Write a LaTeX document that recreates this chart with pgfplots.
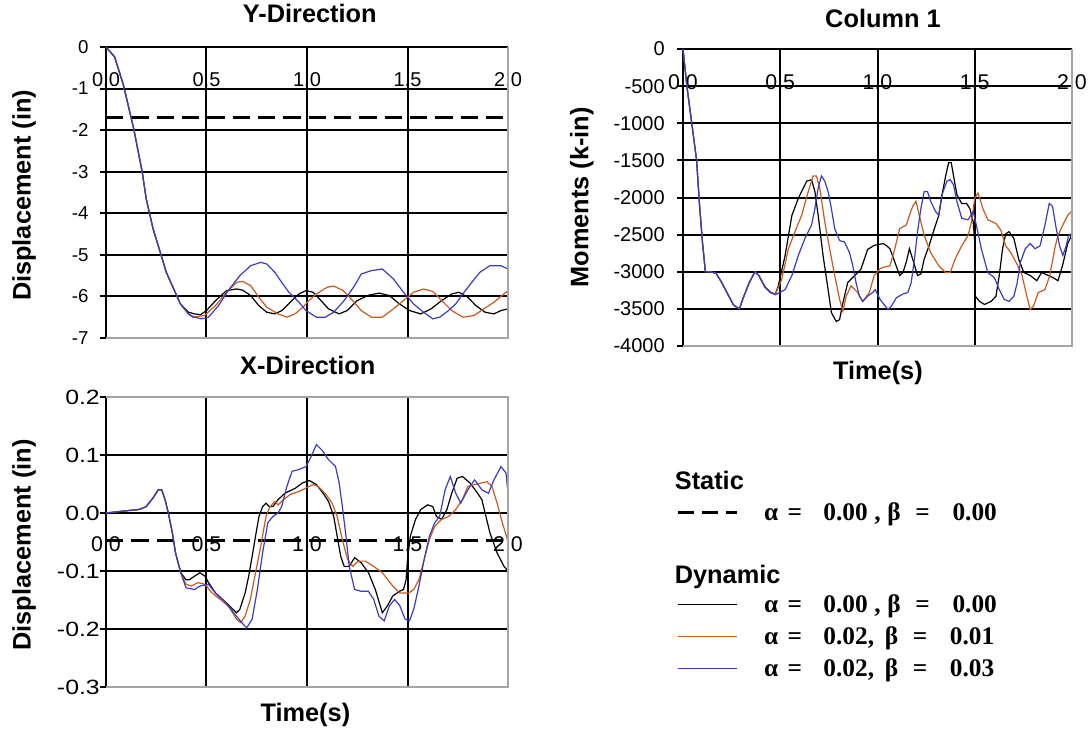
\documentclass[border=0pt]{standalone}
\usepackage{fontspec}
\setmainfont{Liberation Sans}
\newfontfamily\serifb{Liberation Serif}
\usepackage{graphicx}
\usepackage{pgfplots}
\pgfplotsset{compat=1.18}
\definecolor{sorange}{RGB}{200,90,30}
\definecolor{sblue}{RGB}{60,60,190}
\definecolor{bordergray}{RGB}{165,165,165}
\newcommand\bigbf{\fontsize{19}{22}\selectfont\bfseries}
\newcommand\ab[3]{{\serifb\bfseries α\hspace{7pt}=\hspace{16pt}#1#2β\hspace{11pt}=\hspace{17pt}#3}}
\newcommand\xs[1]{\scalebox{1.2}[1]{#1}}
\pgfplotsset{
 excel/.style={
  scale only axis, clip=false,
  xmin=0, xmax=2,
  axis x line=middle, axis y line=left,
  axis line style={-, black, line width=1.5pt},
  xtick={0,0.5,1,1.5,2},
  xticklabels={0.0,0.5,1.0,1.5,2.0},
  hide obscured x ticks=false, hide obscured y ticks=false,
  grid=major,
  major grid style={black, line width=1.5pt},
  grid style={black, line width=1.5pt},
  tick align=outside, major tick length=4.5pt,
  x tick style={draw=none},
  y tick style={black, line width=1.5pt},
  title style={font=\bigbf, anchor=center},
  every axis y label/.style={rotate=90, anchor=center, font=\bigbf},
  every axis x label/.style={anchor=center, font=\bigbf},
 },
 ser/.style={line width=0.9pt, forget plot},
}
\begin{document}
\begin{tikzpicture}
\path[use as bounding box] (0,0) rectangle (817.5pt,549.75pt);

% ---------------- Y-Direction ----------------
\begin{axis}[excel, at={(79.5pt,296.25pt)}, anchor=south west,
 width=301.5pt, height=218.25pt,
 ymin=-7, ymax=0, ytick={-7,-6,-5,-4,-3,-2,-1,0},
 yticklabels={-7,-6,-5,-4,-3,-2,-1,0},
 yticklabel style={font=\fontsize{14}{14}\selectfont, inner sep=0pt, xshift=-8.5pt},
 xticklabel style={font=\fontsize{15}{15}\selectfont, anchor=center, yshift=-20.25pt},
 title={Y-Direction}, title style={at={(axis description cs:0.507,1)}, yshift=19.5pt},
 ylabel={Displacement (in)}, ylabel style={at={(axis description cs:-0.204,0.49)}},
]
\addplot[black, line width=2.2pt, dash pattern=on 13pt off 6pt, forget plot] coordinates {(0,-1.69) (2,-1.69)};
\addplot[ser, black] coordinates {(0,0) (0.043,-0.24) (0.087,-0.92) (0.138,-1.97) (0.18,-3.0) (0.2,-3.65) (0.234,-4.37) (0.27,-4.94) (0.3,-5.42) (0.337,-5.82) (0.37,-6.18) (0.41,-6.38) (0.44,-6.42) (0.47,-6.44) (0.5,-6.34) (0.545,-6.1) (0.6,-5.86) (0.65,-5.82) (0.68,-5.85) (0.72,-5.98) (0.76,-6.22) (0.8,-6.38) (0.84,-6.42) (0.875,-6.34) (0.925,-6.1) (0.96,-5.94) (0.995,-5.86) (1.03,-5.9) (1.06,-6.05) (1.107,-6.3) (1.16,-6.42) (1.2,-6.34) (1.25,-6.1) (1.306,-5.97) (1.36,-5.92) (1.41,-5.98) (1.46,-6.18) (1.51,-6.34) (1.566,-6.42) (1.617,-6.3) (1.67,-6.1) (1.72,-5.94) (1.756,-5.9) (1.8,-6.02) (1.84,-6.22) (1.886,-6.38) (1.93,-6.42) (1.965,-6.34) (2.0,-6.3)};
\addplot[ser, sorange] coordinates {(0,0) (0.043,-0.24) (0.087,-0.92) (0.138,-1.97) (0.18,-3.0) (0.2,-3.65) (0.234,-4.37) (0.27,-4.94) (0.3,-5.42) (0.337,-5.82) (0.37,-6.18) (0.41,-6.42) (0.43,-6.5) (0.49,-6.46) (0.545,-6.22) (0.6,-5.9) (0.65,-5.66) (0.68,-5.64) (0.72,-5.74) (0.76,-6.02) (0.8,-6.26) (0.856,-6.42) (0.9,-6.5) (0.94,-6.42) (0.98,-6.26) (1.01,-6.1) (1.047,-5.94) (1.1,-5.78) (1.133,-5.75) (1.18,-5.86) (1.22,-6.06) (1.27,-6.34) (1.32,-6.5) (1.375,-6.5) (1.43,-6.3) (1.48,-6.1) (1.53,-5.9) (1.58,-5.82) (1.626,-5.88) (1.67,-6.1) (1.72,-6.34) (1.775,-6.5) (1.83,-6.46) (1.88,-6.3) (1.93,-6.14) (1.97,-5.98) (2.0,-5.86)};
\addplot[ser, sblue] coordinates {(0,0) (0.043,-0.24) (0.087,-0.92) (0.138,-1.97) (0.18,-3.0) (0.2,-3.65) (0.234,-4.37) (0.27,-4.94) (0.3,-5.42) (0.337,-5.82) (0.37,-6.18) (0.41,-6.42) (0.44,-6.5) (0.476,-6.54) (0.51,-6.5) (0.56,-6.22) (0.614,-5.82) (0.666,-5.5) (0.72,-5.26) (0.77,-5.18) (0.8,-5.22) (0.84,-5.42) (0.874,-5.66) (0.91,-5.9) (0.96,-6.14) (0.995,-6.34) (1.047,-6.5) (1.09,-6.5) (1.133,-6.38) (1.185,-6.1) (1.237,-5.74) (1.27,-5.46) (1.32,-5.38) (1.375,-5.34) (1.43,-5.58) (1.48,-5.9) (1.53,-6.18) (1.58,-6.38) (1.626,-6.54) (1.66,-6.5) (1.704,-6.34) (1.74,-6.18) (1.775,-5.94) (1.82,-5.66) (1.86,-5.42) (1.91,-5.26) (1.965,-5.26) (2.0,-5.34)};
\draw[bordergray, line width=1.5pt] (rel axis cs:0,0) -- (rel axis cs:1,0) -- (rel axis cs:1,1);
\end{axis}

% ---------------- X-Direction ----------------
\begin{axis}[excel, at={(79.5pt,34.5pt)}, anchor=south west,
 width=301.5pt, height=217.5pt,
 ymin=-0.3, ymax=0.2, ytick={-0.3,-0.2,-0.1,0,0.1,0.2},
 yticklabels={\xs{-0.3},\xs{-0.2},\xs{-0.1},\xs{0.0},\xs{0.1},\xs{0.2}},
 yticklabel style={font=\fontsize{15.5}{15.5}\selectfont, inner sep=0pt, xshift=0pt},
 xticklabel style={font=\fontsize{16}{16}\selectfont, anchor=center, yshift=-18.75pt},
 title={X-Direction}, title style={at={(axis description cs:0.502,1)}, yshift=17.6pt},
 ylabel={Displacement (in)}, ylabel style={at={(axis description cs:-0.204,0.49)}},
 xlabel={Time(s)}, xlabel style={at={(axis description cs:0.496,0)}, yshift=-21pt},
]
\addplot[black, line width=2.2pt, dash pattern=on 13pt off 6pt, forget plot] coordinates {(0,-0.048) (2,-0.048)};
\addplot[ser, black] coordinates {(0,0) (0.078,0.003) (0.164,0.006) (0.2,0.011) (0.234,0.026) (0.26,0.04) (0.277,0.04) (0.294,0.023) (0.31,0) (0.33,-0.034) (0.346,-0.069) (0.372,-0.103) (0.398,-0.115) (0.415,-0.115) (0.44,-0.109) (0.467,-0.103) (0.493,-0.109) (0.51,-0.12) (0.545,-0.138) (0.58,-0.149) (0.614,-0.16) (0.649,-0.172) (0.666,-0.166) (0.692,-0.138) (0.71,-0.109) (0.727,-0.075) (0.744,-0.04) (0.761,-0.006) (0.779,0.011) (0.796,0.017) (0.813,0.011) (0.83,0.011) (0.856,0.023) (0.89,0.034) (0.943,0.043) (0.978,0.052) (1.012,0.056) (1.047,0.049) (1.08,0.034) (1.107,0.02) (1.133,-0.006) (1.15,-0.04) (1.168,-0.075) (1.185,-0.092) (1.21,-0.092) (1.237,-0.077) (1.27,-0.086) (1.306,-0.103) (1.34,-0.132) (1.375,-0.172) (1.4,-0.16) (1.427,-0.143) (1.46,-0.135) (1.48,-0.132) (1.493,-0.115) (1.5,-0.08) (1.514,-0.04) (1.54,-0.011) (1.566,0.006) (1.6,0.014) (1.626,0.011) (1.644,-0.006) (1.67,-0.011) (1.696,0.006) (1.72,0.034) (1.747,0.06) (1.773,0.063) (1.81,0.052) (1.843,0.037) (1.87,0.023) (1.886,0) (1.91,-0.034) (1.946,-0.069) (1.98,-0.092) (2.0,-0.1)};
\addplot[ser, sorange] coordinates {(0,0) (0.078,0.003) (0.164,0.006) (0.2,0.011) (0.234,0.026) (0.26,0.04) (0.277,0.04) (0.294,0.023) (0.31,0) (0.33,-0.034) (0.346,-0.069) (0.372,-0.103) (0.398,-0.123) (0.424,-0.126) (0.458,-0.12) (0.493,-0.123) (0.528,-0.138) (0.58,-0.152) (0.614,-0.163) (0.649,-0.183) (0.67,-0.189) (0.692,-0.178) (0.718,-0.149) (0.744,-0.103) (0.77,-0.057) (0.796,-0.006) (0.813,0.009) (0.839,0.02) (0.856,0.014) (0.882,0.023) (0.917,0.032) (0.96,0.037) (0.995,0.043) (1.03,0.049) (1.055,0.046) (1.09,0.034) (1.125,0.017) (1.15,-0.006) (1.176,-0.046) (1.202,-0.08) (1.228,-0.092) (1.254,-0.083) (1.29,-0.083) (1.332,-0.092) (1.375,-0.103) (1.427,-0.126) (1.462,-0.138) (1.505,-0.138) (1.531,-0.132) (1.557,-0.115) (1.583,-0.08) (1.609,-0.046) (1.635,-0.023) (1.67,-0.011) (1.704,-0.006) (1.74,0.006) (1.773,0.023) (1.8,0.046) (1.834,0.049) (1.87,0.052) (1.895,0.054) (1.92,0.046) (1.946,0.017) (1.972,-0.017) (2.0,-0.049)};
\addplot[ser, sblue] coordinates {(0,0) (0.078,0.003) (0.164,0.006) (0.2,0.011) (0.234,0.026) (0.26,0.04) (0.277,0.04) (0.294,0.023) (0.31,0) (0.33,-0.034) (0.346,-0.069) (0.372,-0.103) (0.398,-0.129) (0.44,-0.132) (0.467,-0.126) (0.51,-0.123) (0.545,-0.138) (0.597,-0.155) (0.649,-0.178) (0.683,-0.192) (0.7,-0.198) (0.727,-0.183) (0.753,-0.132) (0.779,-0.069) (0.805,-0.017) (0.83,-0.006) (0.856,0) (0.874,0.011) (0.9,0.046) (0.926,0.072) (0.96,0.075) (0.995,0.08) (1.02,0.097) (1.047,0.118) (1.073,0.109) (1.107,0.092) (1.142,0.08) (1.16,0.052) (1.176,0.011) (1.194,-0.04) (1.21,-0.092) (1.237,-0.132) (1.27,-0.135) (1.306,-0.135) (1.332,-0.149) (1.358,-0.178) (1.384,-0.186) (1.41,-0.16) (1.436,-0.149) (1.462,-0.16) (1.488,-0.183) (1.51,-0.186) (1.531,-0.166) (1.557,-0.126) (1.583,-0.08) (1.609,-0.04) (1.635,-0.017) (1.66,-0.006) (1.687,0.04) (1.713,0.063) (1.74,0.034) (1.765,0.017) (1.8,0.04) (1.834,0.057) (1.87,0.04) (1.903,0.034) (1.93,0.057) (1.965,0.08) (1.99,0.069) (2.0,0.034)};
\draw[bordergray, line width=1.5pt] (rel axis cs:0,0) -- (rel axis cs:1,0) -- (rel axis cs:1,1) -- (rel axis cs:0,1);
\end{axis}

% ---------------- Column 1 ----------------
\begin{axis}[excel, at={(512.25pt,290.25pt)}, anchor=south west,
 width=291.75pt, height=222.75pt,
 ymin=-4000, ymax=0, ytick={-4000,-3500,-3000,-2500,-2000,-1500,-1000,-500,0},
 yticklabels={-4000,-3500,-3000,-2500,-2000,-1500,-1000,-500,0},
 yticklabel style={font=\fontsize{15}{15}\selectfont, inner sep=0pt, xshift=-9pt},
 xticklabel style={font=\fontsize{16}{16}\selectfont, anchor=center, yshift=-20.25pt},
 title={Column 1}, title style={at={(axis description cs:0.514,1)}, yshift=17.25pt},
 ylabel={Moments (k-in)}, ylabel style={at={(axis description cs:-0.26,0.5)}},
 xlabel={Time(s)}, xlabel style={at={(axis description cs:0.501,0)}, yshift=-20.25pt},
 legend style={at={(-0.018,-0.397)}, anchor=north west, draw=none, fill=none,
   inner sep=0pt, row sep=0pt, column sep=19.5pt, font=\fontsize{19}{22}\selectfont,
   nodes={inner sep=0pt, text height=18.4pt, text depth=5.6pt}},
 legend cell align=left,
 legend image code/.code={\draw[#1] (0pt,0pt) -- (44.25pt,0pt);},
]
\addlegendimage{empty legend}
\addlegendentry[text height=18.9pt, text depth=5.1pt]{\makebox[0pt][l]{\hspace*{-67.5pt}\bfseries Static}}
\addlegendimage{black, line width=2.2pt, dash pattern=on 12pt off 6pt}
\addlegendentry{\ab{0.00}{\hspace{5pt},\hspace{5pt}}{0.00}}
\addlegendimage{empty legend}
\addlegendentry{}
\addlegendimage{empty legend}
\addlegendentry[text height=17.4pt, text depth=3.6pt]{\makebox[0pt][l]{\hspace*{-67.5pt}\bfseries Dynamic}}
\addlegendimage{black, line width=1pt}
\addlegendentry{\ab{0.00}{\hspace{5pt},\hspace{5pt}}{0.00}}
\addlegendimage{sorange, line width=1pt}
\addlegendentry{\ab{0.02}{,\hspace{8pt}}{0.01}}
\addlegendimage{sblue, line width=1pt}
\addlegendentry{\ab{0.02}{,\hspace{8pt}}{0.03}}
\addplot[ser, black] coordinates {(0,0) (0.01,-250) (0.02,-500) (0.035,-800) (0.05,-1100) (0.07,-1500) (0.085,-2100) (0.1,-2600) (0.115,-3000) (0.14,-3000) (0.17,-3020) (0.2,-3150) (0.23,-3300) (0.26,-3450) (0.29,-3500) (0.31,-3350) (0.34,-3150) (0.37,-3000) (0.39,-3050) (0.42,-3200) (0.45,-3280) (0.475,-3300) (0.49,-3190) (0.525,-2780) (0.56,-2240) (0.593,-2010) (0.636,-1780) (0.661,-1760) (0.678,-1920) (0.695,-2240) (0.72,-2780) (0.746,-3240) (0.763,-3550) (0.788,-3670) (0.805,-3645) (0.822,-3420) (0.847,-3145) (0.881,-3055) (0.915,-2965) (0.949,-2700) (0.983,-2645) (1.03,-2620) (1.047,-2650) (1.064,-2690) (1.089,-2870) (1.114,-3050) (1.131,-3010) (1.148,-2870) (1.164,-2690) (1.181,-2830) (1.206,-3050) (1.223,-3030) (1.24,-2830) (1.265,-2650) (1.29,-2440) (1.315,-2240) (1.332,-1960) (1.352,-1690) (1.366,-1530) (1.379,-1530) (1.391,-1710) (1.408,-1960) (1.433,-2080) (1.458,-2080) (1.475,-2150) (1.492,-2330) (1.5,-2600) (1.503,-3330) (1.525,-3400) (1.55,-3440) (1.584,-3400) (1.609,-3330) (1.626,-3050) (1.643,-2690) (1.659,-2490) (1.676,-2460) (1.701,-2550) (1.726,-2830) (1.752,-3010) (1.785,-3050) (1.819,-3120) (1.844,-3010) (1.878,-3050) (1.903,-3080) (1.928,-3120) (1.953,-2900) (1.978,-2620) (2.0,-2500)};
\addplot[ser, sorange] coordinates {(0,0) (0.01,-250) (0.02,-500) (0.035,-800) (0.05,-1100) (0.07,-1500) (0.085,-2100) (0.1,-2600) (0.115,-3000) (0.14,-3000) (0.17,-3020) (0.2,-3150) (0.23,-3300) (0.26,-3450) (0.29,-3500) (0.31,-3350) (0.34,-3150) (0.37,-3000) (0.39,-3050) (0.42,-3200) (0.45,-3280) (0.475,-3300) (0.508,-3100) (0.542,-2690) (0.576,-2460) (0.61,-2240) (0.644,-1920) (0.669,-1710) (0.686,-1710) (0.703,-1870) (0.729,-2330) (0.754,-2690) (0.78,-3050) (0.805,-3370) (0.822,-3530) (0.839,-3330) (0.864,-3190) (0.898,-3280) (0.924,-3400) (0.958,-3280) (0.983,-3050) (1.013,-2960) (1.03,-2940) (1.064,-2920) (1.089,-2690) (1.114,-2420) (1.148,-2370) (1.164,-2240) (1.181,-2120) (1.198,-2050) (1.215,-2240) (1.24,-2510) (1.273,-2740) (1.315,-2920) (1.349,-3010) (1.374,-3010) (1.399,-2830) (1.433,-2650) (1.466,-2510) (1.483,-2330) (1.5,-2010) (1.517,-1940) (1.542,-2150) (1.567,-2300) (1.609,-2350) (1.634,-2440) (1.659,-2650) (1.685,-2740) (1.718,-2900) (1.743,-3050) (1.768,-3330) (1.785,-3510) (1.802,-3460) (1.827,-3280) (1.861,-3240) (1.886,-3050) (1.911,-2690) (1.928,-2510) (1.953,-2370) (1.978,-2240) (2.0,-2180)};
\addplot[ser, sblue] coordinates {(0,0) (0.01,-250) (0.02,-500) (0.035,-800) (0.05,-1100) (0.07,-1500) (0.085,-2100) (0.1,-2600) (0.115,-3000) (0.14,-3000) (0.17,-3020) (0.2,-3150) (0.23,-3300) (0.26,-3450) (0.29,-3500) (0.31,-3350) (0.34,-3150) (0.37,-3000) (0.39,-3050) (0.42,-3200) (0.45,-3280) (0.475,-3310) (0.525,-3240) (0.56,-3050) (0.593,-2780) (0.627,-2550) (0.661,-2370) (0.678,-2150) (0.695,-1870) (0.712,-1710) (0.729,-1780) (0.746,-1920) (0.763,-2150) (0.78,-2420) (0.805,-2580) (0.83,-2600) (0.856,-2740) (0.873,-2920) (0.89,-3150) (0.907,-3330) (0.924,-3400) (0.949,-3330) (0.975,-3280) (0.988,-3240) (1.013,-3370) (1.039,-3460) (1.055,-3510) (1.072,-3460) (1.097,-3350) (1.131,-3300) (1.156,-3280) (1.173,-3150) (1.19,-2830) (1.206,-2460) (1.223,-2150) (1.24,-1920) (1.257,-1920) (1.273,-2050) (1.299,-2190) (1.315,-2240) (1.332,-1960) (1.357,-1780) (1.374,-1760) (1.391,-1830) (1.408,-2050) (1.433,-2280) (1.466,-2300) (1.492,-2190) (1.508,-2370) (1.534,-2690) (1.567,-3010) (1.601,-3080) (1.626,-3240) (1.651,-3370) (1.676,-3400) (1.701,-3330) (1.718,-3150) (1.735,-2870) (1.76,-2690) (1.785,-2620) (1.81,-2690) (1.836,-2650) (1.861,-2370) (1.883,-2080) (1.9,-2120) (1.919,-2420) (1.936,-2650) (1.953,-2780) (1.97,-2650) (1.983,-2510) (2.0,-2480)};
\draw[bordergray, line width=1.5pt] (rel axis cs:0,0) -- (rel axis cs:1,0) -- (rel axis cs:1,1);
\end{axis}
\end{tikzpicture}
\end{document}
